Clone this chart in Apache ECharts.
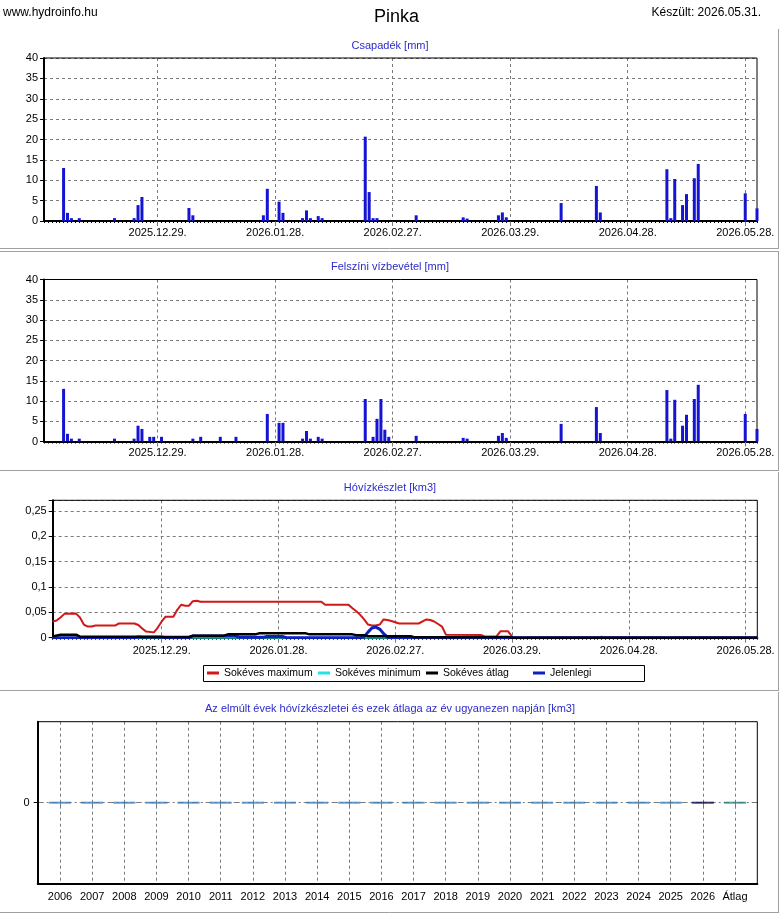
<!DOCTYPE html>
<html>
<head>
<meta charset="utf-8">
<title>Pinka</title>
<script src="https://cdn.jsdelivr.net/npm/echarts@6/dist/echarts.min.js"></script>
<style>
  html, body { margin: 0; padding: 0; background: #fff; }
  #chart { width: 780px; height: 913px; }
</style>
</head>
<body>
<div id="chart"></div>
<script>
/* napi tengelyek */
function makeDays(y, m, d, count) {
  var out = [];
  var t = Date.UTC(y, m - 1, d);
  for (var i = 0; i < count; i++) {
    var dt = new Date(t + i * 86400000);
    var mm = ('0' + (dt.getUTCMonth() + 1)).slice(-2);
    var dd = ('0' + dt.getUTCDate()).slice(-2);
    out.push(dt.getUTCFullYear() + '.' + mm + '.' + dd + '.');
  }
  return out;
}
var rainDays = makeDays(2025, 11, 30, 183);   // 2025.11.30. - 2026.05.31.
var snowDays = makeDays(2025, 12, 1, 182);    // 2025.12.01. - 2026.05.31.

/* Csapadék [mm] */
var csapDates = ['2025.12.05.', '2025.12.06.', '2025.12.07.', '2025.12.09.', '2025.12.18.', '2025.12.23.',
  '2025.12.24.', '2025.12.25.', '2026.01.06.', '2026.01.07.', '2026.01.25.', '2026.01.26.', '2026.01.29.',
  '2026.01.30.', '2026.02.04.', '2026.02.05.', '2026.02.06.', '2026.02.08.', '2026.02.09.', '2026.02.20.',
  '2026.02.21.', '2026.02.22.', '2026.02.23.', '2026.03.05.', '2026.03.17.', '2026.03.18.', '2026.03.26.',
  '2026.03.27.', '2026.03.28.', '2026.04.11.', '2026.04.20.', '2026.04.21.', '2026.05.08.', '2026.05.09.',
  '2026.05.10.', '2026.05.12.', '2026.05.13.', '2026.05.15.', '2026.05.16.', '2026.05.28.', '2026.05.31.'];
var csapValues = [13.0, 2.0, 0.7, 0.7, 0.7, 0.7,
  3.9, 5.9, 3.2, 1.4, 1.4, 7.9, 4.75,
  2.0, 0.7, 2.6, 0.7, 1.2, 0.7, 20.7,
  7.1, 0.7, 0.7, 1.4, 0.9, 0.6, 1.4,
  2.1, 0.9, 4.4, 8.6, 2.1, 12.7, 0.7,
  10.3, 3.9, 6.6, 10.5, 14.0, 6.8, 3.1];

/* Felszíni vízbevétel [mm] */
var felszDates = ['2025.12.05.', '2025.12.06.', '2025.12.07.', '2025.12.09.', '2025.12.18.', '2025.12.23.',
  '2025.12.24.', '2025.12.25.', '2025.12.27.', '2025.12.28.', '2025.12.30.', '2026.01.07.', '2026.01.09.',
  '2026.01.14.', '2026.01.18.', '2026.01.26.', '2026.01.29.', '2026.01.30.', '2026.02.04.', '2026.02.05.',
  '2026.02.06.', '2026.02.08.', '2026.02.09.', '2026.02.20.', '2026.02.22.', '2026.02.23.', '2026.02.24.',
  '2026.02.25.', '2026.02.26.', '2026.03.05.', '2026.03.17.', '2026.03.18.', '2026.03.26.', '2026.03.27.',
  '2026.03.28.', '2026.04.11.', '2026.04.20.', '2026.04.21.', '2026.05.08.', '2026.05.09.', '2026.05.10.',
  '2026.05.12.', '2026.05.13.', '2026.05.15.', '2026.05.16.', '2026.05.28.', '2026.05.31.'];
var felszValues = [13.0, 1.9, 0.7, 0.7, 0.7, 0.7,
  3.9, 3.1, 1.15, 1.15, 1.15, 0.7, 1.15,
  1.15, 1.15, 6.8, 4.6, 4.6, 0.7, 2.6,
  0.7, 1.15, 0.7, 10.5, 1.15, 5.6, 10.5,
  2.9, 1.15, 1.4, 0.9, 0.7, 1.4, 2.1,
  0.9, 4.35, 8.5, 2.1, 12.7, 0.7, 10.3,
  3.9, 6.6, 10.5, 14.0, 6.8, 3.1];

/* Hóvízkészlet [km3] - nap sorszáma 2025.12.01.-tõl */
var maxDay = [0, 1, 2, 3, 6, 7, 8, 9, 10, 11, 16, 17, 21, 22, 23, 24, 26, 27, 28, 29, 31, 32, 33, 34, 35, 36, 37, 38,
  69, 70, 76, 77, 78, 79, 80, 81, 82, 83, 84, 85, 86, 87, 89, 94, 96, 97, 98, 99, 100, 101, 110, 111, 114, 115,
  117, 118, 119, 140, 141, 142, 181];
var maxVal = [0.032, 0.034, 0.040, 0.047, 0.0475, 0.040, 0.026, 0.022, 0.022, 0.024, 0.024, 0.028, 0.028, 0.025,
  0.018, 0.012, 0.0105, 0.020, 0.032, 0.0415, 0.0415, 0.055, 0.065, 0.063, 0.063, 0.072, 0.073, 0.071,
  0.071, 0.065, 0.065, 0.058, 0.052, 0.045, 0.036, 0.026, 0.024, 0.024, 0.026, 0.036, 0.035, 0.033, 0.028,
  0.028, 0.036, 0.035, 0.032, 0.027, 0.022, 0.006, 0.0053, 0.0026, 0.0026, 0.0125,
  0.0125, 0.002, 0, 0, 0.002, 0, 0];
var minDay = [0, 181];
var minVal = [0, 0];
var avgDay = [0, 2, 6, 7, 22, 23, 35, 36, 44, 45, 52, 53, 65, 66, 77, 78, 80, 81, 92, 93, 114, 115, 117, 118, 181];
var avgVal = [0.0026, 0.006, 0.006, 0.002, 0.002, 0.0013, 0.0013, 0.004, 0.004, 0.0066, 0.0066, 0.0086, 0.0086,
  0.0066, 0.0066, 0.005, 0.005, 0.003, 0.003, 0.0007, 0.0007, 0.0013, 0.0013, 0, 0];
var curDay = [0, 21, 22, 28, 29, 35, 36, 47, 48, 54, 55, 59, 60, 79, 80, 81, 82, 83, 84, 85, 86, 87, 181];
var curVal = [0, 0, 0.0013, 0.0013, 0, 0, 0.0033, 0.0033, 0.0007, 0.0007, 0.0026, 0.0026, 0,
  0, 0.002, 0.011, 0.019, 0.021, 0.017, 0.008, 0.001, 0, 0];

/* Az elmúlt évek hóvízkészletei */
var years = ['2006', '2007', '2008', '2009', '2010', '2011', '2012', '2013', '2014', '2015', '2016',
  '2017', '2018', '2019', '2020', '2021', '2022', '2023', '2024', '2025', '2026', 'Átlag'];
var yearValues = [0, 0, 0, 0, 0, 0, 0, 0, 0, 0, 0, 0, 0, 0, 0, 0, 0, 0, 0, 0, 0, 0];
var yearColors = [];
for (var c = 0; c < years.length; c++) {
  yearColors.push(years[c] === '2026' ? '#0a0a50' : (years[c] === 'Átlag' ? '#2a8a8a' : '#3c82c0'));
}

var legendNames = ['Sokéves maximum', 'Sokéves minimum', 'Sokéves átlag', 'Jelenlegi'];
var legendLeft = [207, 318, 426, 533];

function fillDaily(days, dates, values) {
  var map = {};
  for (var i = 0; i < dates.length; i++) map[dates[i]] = values[i];
  return days.map(function (d) { return map[d] || 0; });
}
function pairs(days, vals) {
  return days.map(function (d, i) { return [d, vals[i]]; });
}

var FONT = 'Liberation Sans, Arial, sans-serif';
var GRIDLINE = { color: '#7a7a7a', width: 1, type: [3, 3] };
var rainLabel = function (idx) { return idx >= 29 && (idx - 29) % 30 === 0; };
var snowLabel = function (idx) { return idx >= 28 && (idx - 28) % 30 === 0; };

function dayAxis(gridIndex, days, fn, margin) {
  return {
    type: 'category', gridIndex: gridIndex, data: days, boundaryGap: false, position: 'bottom',
    axisLine: { lineStyle: { color: '#000', width: 2 } },
    axisTick: { interval: 0, length: 2, lineStyle: { color: '#000' } },
    axisLabel: { interval: fn, margin: margin, fontSize: 11, color: '#000', fontFamily: FONT },
    splitLine: { show: true, interval: fn, lineStyle: GRIDLINE }
  };
}
// hosszabb osztásjel a feliratozott napokon
function majorTicks(gridIndex, days, fn) {
  return {
    type: 'category', gridIndex: gridIndex, data: days, boundaryGap: false, position: 'bottom', offset: 0,
    axisLine: { show: false },
    axisTick: { show: true, interval: fn, length: 5, lineStyle: { color: '#7a7a7a' } },
    axisLabel: { show: false }, splitLine: { show: false }
  };
}
function mmAxis(gridIndex) {
  return {
    type: 'value', gridIndex: gridIndex, min: 0, max: 40, interval: 5,
    axisLine: { show: true, lineStyle: { color: '#000', width: 2 } },
    axisTick: { show: true, length: 4, lineStyle: { color: '#000' } },
    axisLabel: { margin: 6, fontSize: 11, color: '#000', fontFamily: FONT },
    splitLine: { lineStyle: GRIDLINE }
  };
}
function panelTitle(text, top) {
  return { text: text, left: 'center', top: top, padding: 0,
    textStyle: { fontSize: 11, fontWeight: 'normal', color: '#2b2bc8', fontFamily: FONT } };
}
function sep(x1, y1, x2, y2) {
  return { type: 'line', silent: true, shape: { x1: x1, y1: y1, x2: x2, y2: y2 },
    style: { stroke: '#a0a0a0', lineWidth: 1 } };
}

var chart = echarts.init(document.getElementById('chart'));
chart.setOption({
  animation: false,
  backgroundColor: '#fff',
  textStyle: { fontFamily: FONT },
  title: [
    { text: 'www.hydroinfo.hu', left: 3, top: 7, padding: 0,
      textStyle: { fontSize: 12, fontWeight: 'normal', color: '#000', fontFamily: FONT } },
    { text: 'Pinka', left: 374, top: 8, padding: 0,
      textStyle: { fontSize: 18, fontWeight: 'normal', color: '#000', fontFamily: FONT } },
    { text: 'Készült: 2026.05.31.', right: 19, top: 7, padding: 0,
      textStyle: { fontSize: 12, fontWeight: 'normal', color: '#000', fontFamily: FONT } },
    panelTitle('Csapadék [mm]', 40),
    panelTitle('Felszíni vízbevétel [mm]', 261),
    panelTitle('Hóvízkészlet [km3]', 482),
    panelTitle('Az elmúlt évek hóvízkészletei és ezek átlaga az év ugyanezen napján [km3]', 703)
  ],
  legend: legendNames.map(function (n, i) {
    return {
      data: [n], left: legendLeft[i], top: 667.5, padding: 0,
      itemGap: 0, itemWidth: 12, itemHeight: 3, icon: 'rect',
      textStyle: { fontSize: 10.5, color: '#000', fontFamily: FONT }
    };
  }),
  grid: [
    { left: 44, top: 58, width: 713, height: 163, show: true, borderColor: '#000', borderWidth: 1, z: 1 },
    { left: 44, top: 279.5, width: 713, height: 162, show: true, borderColor: '#000', borderWidth: 1, z: 1 },
    { left: 52.7, top: 500.3, width: 704.6, height: 137.4, show: true, borderColor: '#000', borderWidth: 1, z: 1 },
    { left: 37.7, top: 721.7, width: 719.6, height: 162, show: true, borderColor: '#000', borderWidth: 1, z: 1 },
    { left: 60, top: 721.7, width: 675, height: 162, show: false }
  ],
  xAxis: [
    dayAxis(0, rainDays, rainLabel, 6),
    dayAxis(1, rainDays, rainLabel, 6),
    dayAxis(2, snowDays, snowLabel, 8),
    { type: 'value', gridIndex: 3, min: 0, max: 1,
      axisLine: { show: true, lineStyle: { color: '#000', width: 2 } },
      axisTick: { show: false }, axisLabel: { show: false }, splitLine: { show: false } },
    { type: 'value', gridIndex: 4, min: 0, max: 21, interval: 1,
      axisLine: { show: false },
      axisTick: { show: true, length: 4, lineStyle: { color: '#7a7a7a' } },
      axisLabel: { margin: 8, fontSize: 11, color: '#000', fontFamily: FONT,
        formatter: function (v) { return years[v] || ''; } },
      splitLine: { show: true, lineStyle: GRIDLINE } },
    majorTicks(0, rainDays, rainLabel),
    majorTicks(1, rainDays, rainLabel),
    majorTicks(2, snowDays, snowLabel)
  ],
  yAxis: [
    mmAxis(0),
    mmAxis(1),
    { type: 'value', gridIndex: 2, min: 0, max: 0.271, interval: 0.05,
      axisLine: { show: true, lineStyle: { color: '#000', width: 2 } },
      axisTick: { show: true, length: 4, lineStyle: { color: '#000' } },
      axisLabel: { margin: 6, fontSize: 11, color: '#000', fontFamily: FONT,
        formatter: function (v) {
          var k = v / 0.05;
          if (Math.abs(k - Math.round(k)) > 1e-6) return '';
          return String(+v.toFixed(2)).replace('.', ',');
        } },
      splitLine: { lineStyle: GRIDLINE } },
    { type: 'category', gridIndex: 3, data: ['', '0', ''], boundaryGap: false,
      axisLine: { show: true, lineStyle: { color: '#000', width: 2 } },
      axisTick: { show: true, length: 4, interval: function (i) { return i === 1; }, lineStyle: { color: '#000' } },
      axisLabel: { margin: 8, fontSize: 11, color: '#000', fontFamily: FONT, interval: function (i) { return i === 1; } },
      splitLine: { show: true, interval: function (i) { return i === 1; },
        lineStyle: { color: '#7a7a7a', width: 1, type: [6, 3, 2, 3] } } },
    { type: 'value', gridIndex: 4, min: -1, max: 1, show: false }
  ],
  series: [
    { name: 'Csapadék', type: 'bar', xAxisIndex: 0, yAxisIndex: 0, barWidth: 3,
      itemStyle: { color: '#1414d2' }, data: fillDaily(rainDays, csapDates, csapValues) },
    { name: 'Felszíni vízbevétel', type: 'bar', xAxisIndex: 1, yAxisIndex: 1, barWidth: 3,
      itemStyle: { color: '#1414d2' }, data: fillDaily(rainDays, felszDates, felszValues) },
    { name: 'Sokéves maximum', type: 'line', xAxisIndex: 2, yAxisIndex: 2, symbol: 'none',
      lineStyle: { color: '#d01818', width: 2 }, itemStyle: { color: '#d01818' }, data: pairs(maxDay, maxVal) },
    { name: 'Sokéves minimum', type: 'line', xAxisIndex: 2, yAxisIndex: 2, symbol: 'none',
      lineStyle: { color: '#20e4e4', width: 2 }, itemStyle: { color: '#20e4e4' }, data: pairs(minDay, minVal) },
    { name: 'Jelenlegi', type: 'line', xAxisIndex: 2, yAxisIndex: 2, symbol: 'none',
      lineStyle: { color: '#1020c0', width: 3 }, itemStyle: { color: '#1020c0' }, data: pairs(curDay, curVal) },
    { name: 'Sokéves átlag', type: 'line', xAxisIndex: 2, yAxisIndex: 2, symbol: 'none',
      lineStyle: { color: '#000', width: 2.5 }, itemStyle: { color: '#000' }, data: pairs(avgDay, avgVal) },
    { name: 'Évek', type: 'scatter', xAxisIndex: 4, yAxisIndex: 4, symbol: 'rect', symbolSize: [22, 2],
      data: yearValues.map(function (v, i) { return { value: [i, v], itemStyle: { color: yearColors[i] } }; }) }
  ],
  graphic: [
    sep(0, 248.5, 779, 248.5), sep(778.5, 29, 778.5, 248.5),
    sep(0, 251.5, 779, 251.5), sep(778.5, 251.5, 778.5, 470.5),
    sep(0, 470.5, 779, 470.5), sep(778.5, 472, 778.5, 690.5),
    sep(0, 690.5, 779, 690.5), sep(778.5, 692, 778.5, 912.5),
    sep(0, 912.5, 779, 912.5),
    { type: 'rect', silent: true, shape: { x: 203.5, y: 665.5, width: 441, height: 16 },
      style: { fill: 'none', stroke: '#000', lineWidth: 1 } }
  ]
});
</script>
</body>
</html>
